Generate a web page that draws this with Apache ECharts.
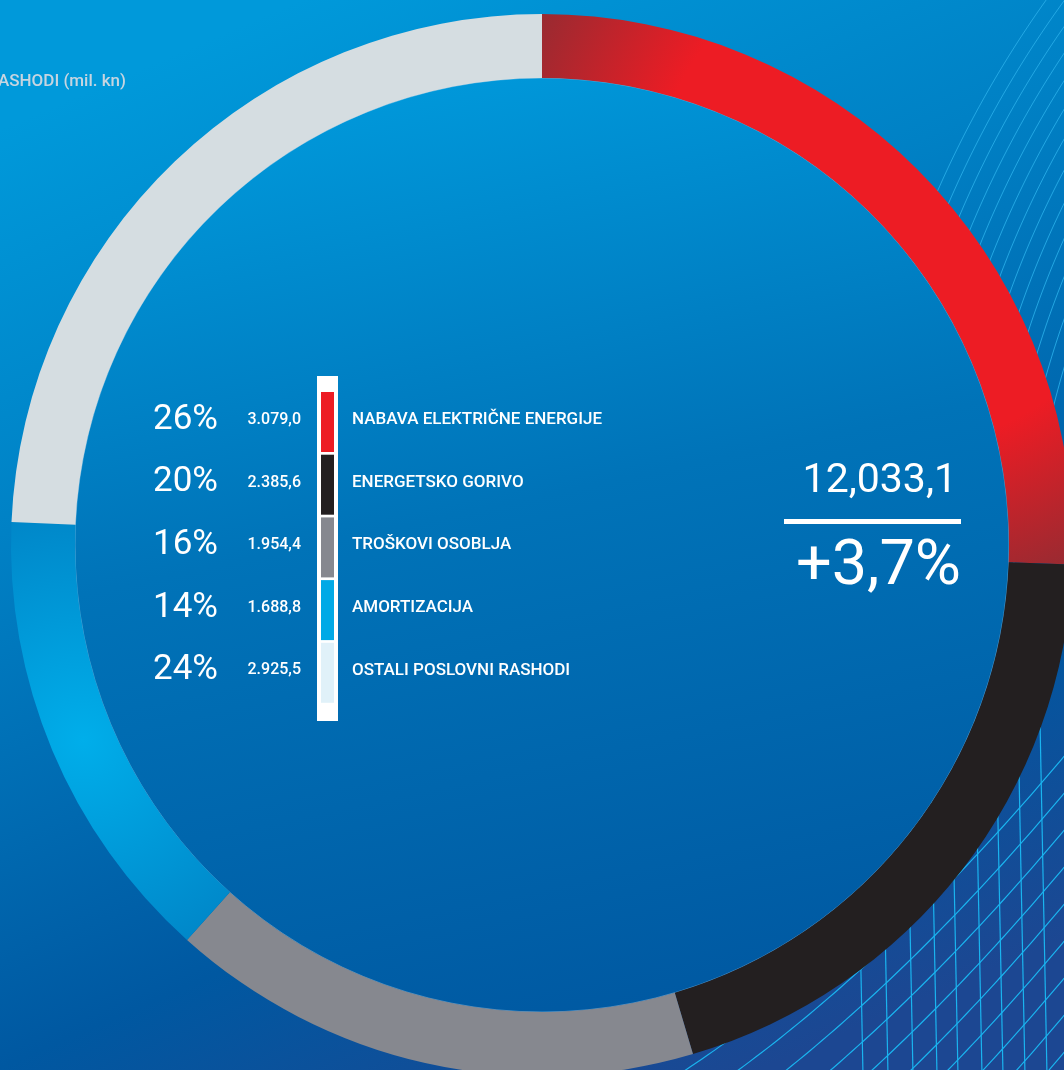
<!DOCTYPE html>
<html>
<head>
<meta charset="utf-8">
<script src="https://cdn.jsdelivr.net/npm/echarts@6/dist/echarts.min.js"></script>
<style>
  html, body { margin: 0; padding: 0; }
  #chart { width: 1064px; height: 1070px; }
</style>
</head>
<body>
<div id="chart"></div>
<script>
// podaci (mil. kn)
var categories = ['NABAVA ELEKTRIČNE ENERGIJE', 'ENERGETSKO GORIVO', 'TROŠKOVI OSOBLJA', 'AMORTIZACIJA', 'OSTALI POSLOVNI RASHODI']
var values = [3079.0, 2385.6, 1954.4, 1688.8, 2925.5]
var percentLabels = ['26%', '20%', '16%', '14%', '24%']
var totalLabel = '12,033,1'
var changeLabel = '+3,7%'
var titleText = 'POSLOVNI RASHODI (mil. kn)'

var FONT = 'Roboto, "Noto Sans", sans-serif'
var cx = 542
var cy = 545

// 3079.0 -> "3.079,0"
function fmt (v) {
  var parts = v.toFixed(1).split('.')
  return parts[0].replace(/\B(?=(\d{3})+(?!\d))/g, '.') + ',' + parts[1]
}

var bgGradient = new echarts.graphic.LinearGradient(300, 0, 760, 1070, [
  {offset: 0, color: '#0099da'},
  {offset: 0.32, color: '#0081c5'},
  {offset: 0.74, color: '#0058a1'},
  {offset: 1, color: '#1c4792'}
], true)
var diskGradient = new echarts.graphic.LinearGradient(440, 78, 640, 1012, [
  {offset: 0, color: '#0098da'},
  {offset: 0.45, color: '#0073b8'},
  {offset: 1, color: '#0059a2'}
], true)

var ringColors = [
  new echarts.graphic.RadialGradient(901, 198, 400, [
    {offset: 0, color: '#ed1c24'},
    {offset: 0.62, color: '#ed1c24'},
    {offset: 1, color: '#9a2a31'}
  ], true),
  '#231f20',
  '#86888f',
  new echarts.graphic.RadialGradient(83, 740, 240, [
    {offset: 0, color: '#00aeea'},
    {offset: 1, color: '#0085c7'}
  ], true),
  '#d5dde1'
]
var swatchColors = ['#ed1c24', '#231f20', '#86888f', '#00a9e6', '#e0f1f9']

var graphics = []

// pozadina
graphics.push({type: 'rect', z: -10, silent: true, shape: {x: 0, y: 0, width: 1064, height: 1070}, style: {fill: bgGradient}})

// dekorativni lukovi gore desno
for (var k = 0; k <= 12; k++) {
  var R = 1071 - 15 * k
  var pts = []
  for (var y = -10; y <= 600; y += 8) {
    pts.push([1918 - Math.sqrt(R * R - (y - 622) * (y - 622)), y])
  }
  graphics.push({type: 'polyline', z: -5, silent: true, shape: {points: pts}, style: {stroke: '#27ace6', lineWidth: 0.9, fill: null}})
}

// mreza dolje desno
var gridX = [863, 888, 913, 937, 958, 982, 1003, 1025, 1047]
gridX.forEach(function (x) {
  graphics.push({type: 'line', z: -5, silent: true, shape: {x1: x - 9, y1: 620, x2: x, y2: 1075}, style: {stroke: '#1ab4ef', lineWidth: 1.2}})
})
function f (x) {
  return 0.73 * (x - 733) + 0.000693 * (x - 733) * (x - 733)
}
for (var j = -1; j <= 10; j++) {
  var b = 1074 + 37 * j
  var dp = []
  for (var x = 660; x <= 1070; x += 6) {
    if (j === -1 && x > 900) break
    dp.push([x, b - f(x)])
  }
  graphics.push({type: 'polyline', z: -5, silent: true, shape: {points: dp}, style: {stroke: '#1ab4ef', lineWidth: 1.2, fill: null}})
}

// unutarnji krug
graphics.push({type: 'circle', z: -1, silent: true, shape: {cx: cx, cy: cy, r: 467}, style: {fill: diskGradient, stroke: 'rgba(150,205,235,0.6)', lineWidth: 0.8}})

// naslov (odrezan lijevo)
graphics.push({type: 'text', z: 10, silent: true, style: {text: titleText, x: 126, y: 82, font: '500 17px ' + FONT, fill: '#c7d5e0', textAlign: 'right', align: 'right', textVerticalAlign: 'middle', verticalAlign: 'middle'}})

// legenda u sredini
graphics.push({type: 'rect', z: 10, silent: true, shape: {x: 317, y: 376, width: 21, height: 345}, style: {fill: '#ffffff'}})
categories.forEach(function (name, i) {
  var rowY = 420 + i * 62.6
  graphics.push({type: 'rect', z: 11, silent: true, shape: {x: 321, y: 392 + i * 62.7, width: 13, height: 60}, style: {fill: swatchColors[i]}})
  graphics.push({type: 'text', z: 11, silent: true, style: {text: percentLabels[i], x: 218, y: rowY, font: '35px ' + FONT, fill: '#ffffff', textAlign: 'right', align: 'right', textVerticalAlign: 'middle', verticalAlign: 'middle'}})
  graphics.push({type: 'text', z: 11, silent: true, style: {text: fmt(values[i]), x: 301, y: rowY, font: '500 16px ' + FONT, fill: '#ffffff', textAlign: 'right', align: 'right', textVerticalAlign: 'middle', verticalAlign: 'middle'}})
  graphics.push({type: 'text', z: 11, silent: true, style: {text: name, x: 352, y: rowY, font: '500 17px ' + FONT, fill: '#ffffff', textAlign: 'left', align: 'left', textVerticalAlign: 'middle', verticalAlign: 'middle'}})
})

// ukupno i promjena
graphics.push({type: 'text', z: 11, silent: true, style: {text: totalLabel, x: 957, y: 482, font: '41px ' + FONT, fill: '#ffffff', textAlign: 'right', align: 'right', textVerticalAlign: 'middle', verticalAlign: 'middle'}})
graphics.push({type: 'rect', z: 11, silent: true, shape: {x: 784, y: 519, width: 177, height: 5}, style: {fill: '#ffffff'}})
graphics.push({type: 'text', z: 11, silent: true, style: {text: changeLabel, x: 961, y: 568, font: '63px ' + FONT, fill: '#ffffff', textAlign: 'right', align: 'right', textVerticalAlign: 'middle', verticalAlign: 'middle'}})

var chart = echarts.init(document.getElementById('chart'), null, {renderer: 'canvas'})
chart.setOption({
  animation: false,
  graphic: {elements: graphics},
  series: [{
    type: 'pie',
    z: 2,
    silent: true,
    center: [cx, cy],
    radius: [467, 531],
    startAngle: 90,
    clockwise: true,
    label: {show: false},
    labelLine: {show: false},
    emphasis: {disabled: true},
    itemStyle: {borderWidth: 0},
    data: categories.map(function (name, i) {
      return {name: name, value: values[i], itemStyle: {color: ringColors[i]}}
    })
  }]
})
</script>
</body>
</html>
